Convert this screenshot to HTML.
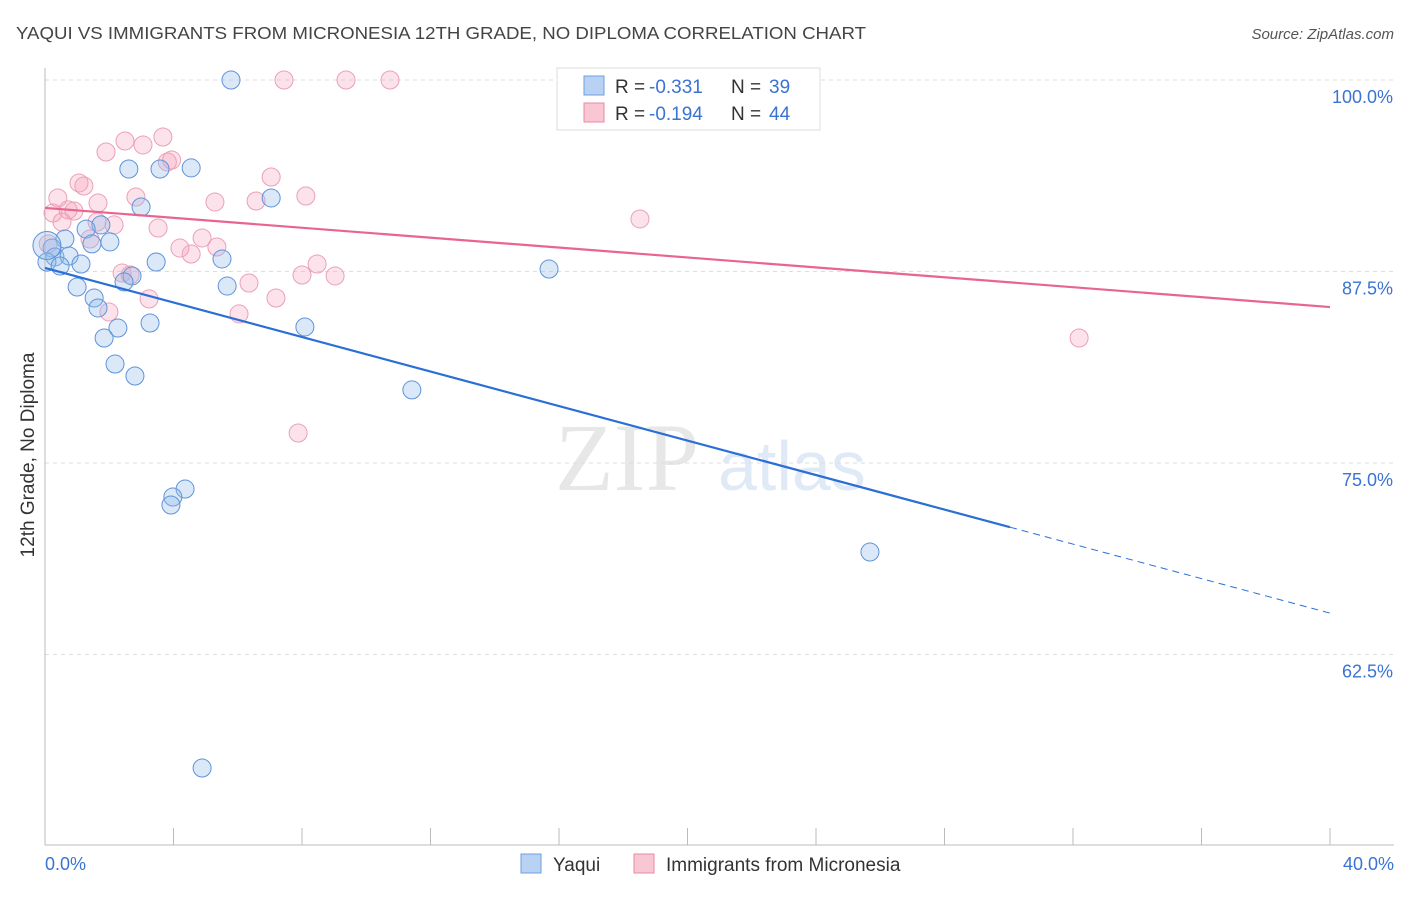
<!DOCTYPE html>
<html><head><meta charset="utf-8"><style>
body{margin:0;background:#fff;font-family:"Liberation Sans",sans-serif}
</style></head><body>
<svg id="chart" width="1406" height="892" xmlns="http://www.w3.org/2000/svg" font-family="Liberation Sans, sans-serif">
<text x="16" y="39" font-size="17.5" fill="#444" textLength="850" lengthAdjust="spacingAndGlyphs">YAQUI VS IMMIGRANTS FROM MICRONESIA 12TH GRADE, NO DIPLOMA CORRELATION CHART</text>
<text x="1394" y="39" font-size="15" fill="#555" text-anchor="end" font-style="italic">Source: ZipAtlas.com</text>
<text transform="translate(34,455) rotate(-90)" font-size="19" fill="#333" text-anchor="middle">12th Grade, No Diploma</text>
<g opacity="0.35">
<text x="555" y="490" font-size="96" fill="#bbb" font-family="Liberation Serif, serif">ZIP</text>
<text x="718" y="490" font-size="70" fill="#a9c4ea">atlas</text>
</g>
<g id="grid"></g><g id="axes"></g><g id="marks"></g>
<g>
<rect x="557" y="68" width="263" height="62" fill="#fff" stroke="#ddd"/>
<rect x="584" y="76" width="20" height="19" fill="#b9d2f3" stroke="#6d9de0"/>
<text x="615" y="93" font-size="19" fill="#333">R =</text>
<text x="649" y="93" font-size="19" fill="#3a73d3">-0.331</text>
<text x="731" y="93" font-size="19" fill="#333">N =</text>
<text x="769" y="93" font-size="19" fill="#3a73d3">39</text>
<rect x="584" y="103" width="20" height="19" fill="#f9c6d4" stroke="#e88aa6"/>
<text x="615" y="120" font-size="19" fill="#333">R =</text>
<text x="649" y="120" font-size="19" fill="#3a73d3">-0.194</text>
<text x="731" y="120" font-size="19" fill="#333">N =</text>
<text x="769" y="120" font-size="19" fill="#3a73d3">44</text>
</g>
<g>
<rect x="521" y="854" width="20" height="19" fill="#b9d2f3" stroke="#6d9de0"/>
<text x="553" y="871" font-size="19" fill="#333">Yaqui</text>
<rect x="634" y="854" width="20" height="19" fill="#f9c6d4" stroke="#e88aa6"/>
<text x="666" y="871" font-size="19" fill="#333">Immigrants from Micronesia</text>
</g>
</svg>
<script>
const yaquiX=[5.79,2.61,3.58,4.55,2.99,7.04,1.74,1.28,0.62,2.02,1.46,0.22,0.31,0.75,0.06,0.47,1.12,3.46,5.51,2.71,2.46,15.69,1.0,5.67,1.53,1.65,3.27,2.27,8.09,1.84,2.18,2.80,11.42,4.36,3.98,3.92,25.68,4.89,0.06];
const yaquiY=[100,94.19,94.19,94.26,91.71,92.30,90.54,90.27,89.62,89.43,89.30,89.03,88.45,88.51,88.12,87.86,87.99,88.12,88.32,87.21,86.82,87.66,86.49,86.55,85.77,85.12,84.14,83.81,83.88,83.16,81.46,80.68,79.77,73.30,72.78,72.26,69.19,55.09,89.2];
const micX=[7.44,9.37,10.74,2.49,3.05,3.67,1.90,3.94,3.81,7.04,1.06,1.21,0.40,2.83,8.12,5.29,6.57,1.65,0.25,0.72,0.90,0.53,1.62,2.15,18.52,3.52,4.89,1.40,4.20,5.35,4.55,8.47,8.00,9.03,2.40,2.65,6.35,7.19,3.24,1.99,6.04,32.19,7.88,0.1];
const micY=[100,100,100,96.02,95.76,96.28,95.30,94.78,94.65,93.67,93.28,93.08,92.30,92.36,92.43,92.04,92.10,91.97,91.32,91.52,91.45,90.73,90.73,90.54,90.93,90.34,89.69,89.62,89.03,89.10,88.64,87.99,87.27,87.21,87.40,87.27,86.75,85.77,85.71,84.86,84.73,83.16,76.96,89.3];
const yTicks=[100,87.5,75,62.5];
const yTickLabels=["100.0%","87.5%","75.0%","62.5%"];
const xTickLabels=["0.0%","40.0%"];
const yaquiTrend=[87.73,65.2]; // y at x=0 and x=40
const micTrend=[91.65,85.18];
const ns="http://www.w3.org/2000/svg";
const X=v=>45+v/40*1285;
const Y=v=>80+(100-v)/12.5*191.5;
function mk(tag,parent,attrs){const e=document.createElementNS(ns,tag);for(const k in attrs)e.setAttribute(k,attrs[k]);document.getElementById(parent).appendChild(e);return e;}
yTicks.forEach((t,i)=>{
 const g=mk('line','grid',{x1:45,x2:1394,y1:Y(t),y2:Y(t),stroke:'#ddd','stroke-dasharray':'4,4'});
 
 
 const l=mk('text','axes',{x:1393,y:Y(t)+23,'font-size':18,fill:'#3a73d3','text-anchor':'end'});l.textContent=yTickLabels[i];
 
 
});
const ax=mk('line','axes',{x1:45,x2:1394,y1:845,y2:845,stroke:'#bbb'});


const ay=mk('line','axes',{x1:45,x2:45,y1:68,y2:845,stroke:'#bbb'});


for(let i=0;i<=10;i++){const t=mk('line','axes',{x1:X(i*4),x2:X(i*4),y1:828,y2:845,stroke:'#bbb'});
 
 }
[[0,'start',45],[40,'end',1394]].forEach((d,i)=>{const t=mk('text','axes',{x:d[2],y:870,'font-size':18,fill:'#3a73d3','text-anchor':d[1]});t.textContent=xTickLabels[i];
 
 });
micX.forEach((x,i)=>{const c=mk('circle','marks',{cx:X(x),cy:Y(micY[i]),r:9,fill:'rgba(244,160,185,0.3)',stroke:'#eca0b6','stroke-width':1});
 
 });
yaquiX.forEach((x,i)=>{const c=mk('circle','marks',{cx:X(x),cy:Y(yaquiY[i]),r:i==yaquiX.length-1?14:9,fill:'rgba(150,188,236,0.35)',stroke:'#5f93da','stroke-width':1});
 
 });
const ym=x=>yaquiTrend[0]+(yaquiTrend[1]-yaquiTrend[0])*x/40;
const l1=mk('line','marks',{x1:X(0),y1:Y(ym(0)),x2:X(30.04),y2:Y(ym(30.04)),stroke:'#2a6fd6','stroke-width':2.2});


const l2=mk('line','marks',{x1:X(30.04),y1:Y(ym(30.04)),x2:X(40),y2:Y(ym(40)),stroke:'#2a6fd6','stroke-width':1,'stroke-dasharray':'7,5'});


const l3=mk('line','marks',{x1:X(0),y1:Y(micTrend[0]),x2:X(40),y2:Y(micTrend[1]),stroke:'#e8658f','stroke-width':2.2});


</script>
</body></html>
